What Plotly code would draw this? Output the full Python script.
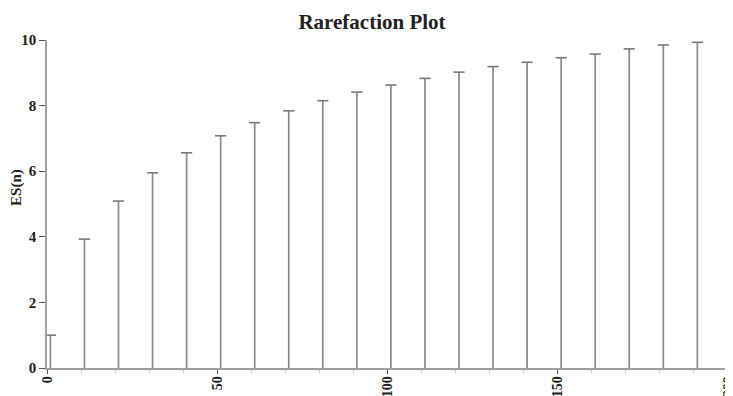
import plotly.graph_objects as go

# Data
sample_size = [1, 11, 21, 31, 41, 51, 61, 71, 81, 91, 101, 111, 121, 131, 141, 151, 161, 171, 181, 191]
es_n = [1.0, 3.93, 5.09, 5.95, 6.56, 7.08, 7.48, 7.84, 8.15, 8.41, 8.63, 8.83, 9.02, 9.19, 9.32, 9.46, 9.57, 9.73, 9.85, 9.93]
x_ticks = [0, 50, 100, 150, 200]
y_ticks = [0, 2, 4, 6, 8, 10]

# stems built from data
sx, sy = [], []
for n, v in zip(sample_size, es_n):
    sx += [n, n, None]
    sy += [0, v, None]

serif = "Liberation Serif, Times New Roman, serif"

fig = go.Figure()
fig.add_trace(go.Scatter(x=sx, y=sy, mode="lines",
                         line=dict(color="#8a8a8a", width=1.7),
                         hoverinfo="skip", showlegend=False, cliponaxis=False))
fig.add_trace(go.Scatter(x=sample_size, y=es_n, mode="markers",
                         marker=dict(symbol="line-ew", size=8,
                                     line=dict(color="#7a7a7a", width=1.6)),
                         showlegend=False, cliponaxis=False))

fig.update_layout(
    width=740, height=388,
    margin=dict(l=39, r=20, t=32, b=28, autoexpand=False),
    paper_bgcolor="white", plot_bgcolor="white",
    title=dict(text="<b>Rarefaction Plot</b>", x=364 / 740, xanchor="center",
               y=0.964, yanchor="middle",
               font=dict(family=serif, size=21, color="#222")),
    annotations=[dict(text="<b>ES(n)</b>", textangle=-90, xref="paper", yref="paper",
                      x=-0.044, y=0.549, xanchor="center", yanchor="middle",
                      showarrow=False, font=dict(family=serif, size=15, color="#222"))],
)
fig.update_xaxes(range=[0, 200], tickvals=x_ticks, ticktext=[f"<b>{t}</b>" for t in x_ticks],
                 tickangle=-90, showgrid=False, zeroline=False,
                 showline=True, linecolor="#a0a0a0", linewidth=1.5,
                 ticks="outside", ticklen=4, tickcolor="#555", tickwidth=1,
                 ticklabelstandoff=-3, ticklabeloverflow="allow",
                 minor=dict(dtick=10, ticks="outside", ticklen=3, tickcolor="#ccc"),
                 tickfont=dict(family=serif, size=14, color="#222"), automargin=False)
fig.update_yaxes(range=[0, 10], tickvals=y_ticks, ticktext=[f"<b>{t}</b>" for t in y_ticks],
                 showgrid=False, zeroline=False,
                 showline=True, linecolor="#a0a0a0", linewidth=1.5,
                 ticks="outside", ticklen=6, tickcolor="#555", tickwidth=1,
                 tickfont=dict(family=serif, size=15, color="#222"), automargin=False)

fig.write_html("out.html")
